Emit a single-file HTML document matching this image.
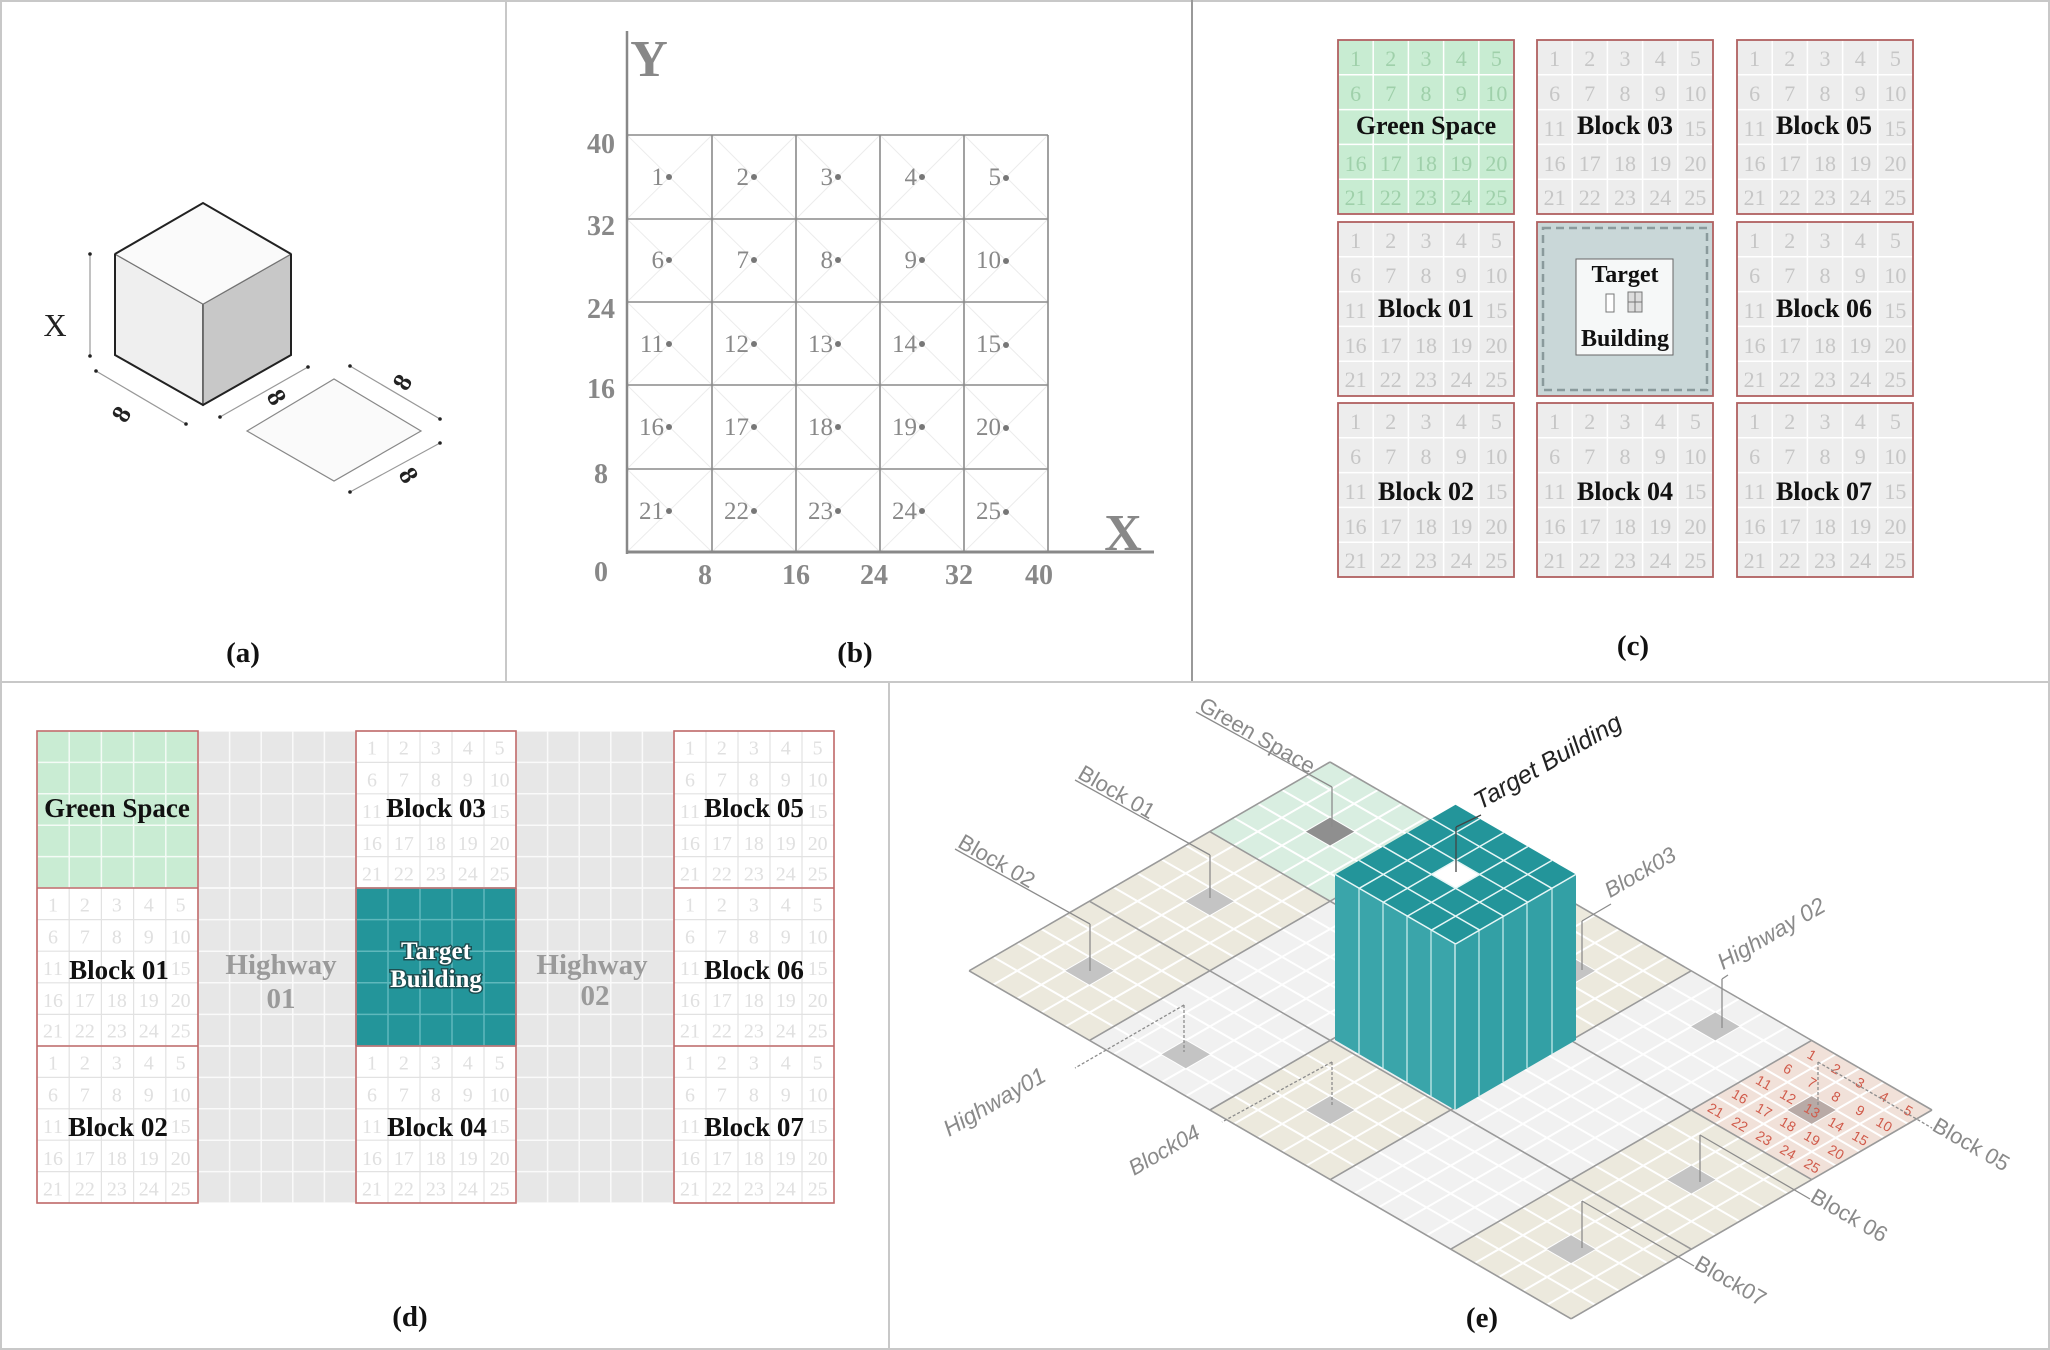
<!DOCTYPE html>
<html><head><meta charset="utf-8"><style>
html,body{margin:0;padding:0;background:#fff}
svg{display:block}
.sr{font-family:"Liberation Serif",serif}
.n{font-family:"Liberation Serif",serif;font-size:22px;fill:#c6c6c6;text-anchor:middle}
.ng{fill:#9fd0aa}
.nd{fill:#e0e0e0}
.lb{font-family:"Liberation Serif",serif;font-weight:bold;font-size:26px;fill:#111;text-anchor:middle}
.cap{font-family:"Liberation Serif",serif;font-weight:bold;font-size:29px;fill:#111;text-anchor:middle}
.bn{font-family:"Liberation Serif",serif;font-size:25px;fill:#888;text-anchor:end}
.tk{font-family:"Liberation Serif",serif;font-weight:bold;font-size:28px;fill:#888;text-anchor:middle}
.el{font-family:"Liberation Sans",sans-serif;font-size:22px;fill:#8a8a8a}
</style></head><body>
<svg width="2050" height="1350" viewBox="0 0 2050 1350" xmlns="http://www.w3.org/2000/svg">
<defs>
<path id="g5" d="M0 0V5M1 0V5M2 0V5M3 0V5M4 0V5M5 0V5M0 0H5M0 1H5M0 2H5M0 3H5M0 4H5M0 5H5" vector-effect="non-scaling-stroke" fill="none"/>
</defs>
<rect x="1" y="1" width="2048" height="1348" fill="#fff" stroke="#c8c8c8" stroke-width="2"/>
<line x1="506" y1="0" x2="506" y2="682" stroke="#c8c8c8" stroke-width="2"/>
<line x1="1192" y1="0" x2="1192" y2="682" stroke="#999" stroke-width="2"/>
<line x1="0" y1="682" x2="2050" y2="682" stroke="#c8c8c8" stroke-width="2"/>
<line x1="889" y1="682" x2="889" y2="1350" stroke="#c8c8c8" stroke-width="2"/>

<!-- Panel a -->
<polygon points="115,254 203,304 203,405 115,355" fill="#efefef" stroke="#555" stroke-width="1.5"/>
<polygon points="203,304 291,254 291,355 203,405" fill="#c8c8c8" stroke="#555" stroke-width="1.5"/>
<polygon points="203,203 291,254 203,304 115,254" fill="#fafafa" stroke="#777" stroke-width="1"/>
<polyline points="115,254 203,203 291,254" fill="none" stroke="#222" stroke-width="2"/>
<polyline points="115,254 115,355 203,405 291,355 291,254" fill="none" stroke="#222" stroke-width="2"/>
<g stroke="#999" stroke-width="1.2">
<line x1="90" y1="254" x2="90" y2="356"/>
<line x1="96" y1="371" x2="186" y2="424"/>
<line x1="220" y1="417" x2="308" y2="367"/>
<line x1="350" y1="366" x2="440" y2="419"/>
<line x1="440" y1="443" x2="350" y2="492"/>
</g>
<g fill="#222"><circle cx="90" cy="254" r="1.8"/><circle cx="90" cy="356" r="1.8"/><circle cx="96" cy="371" r="1.8"/><circle cx="186" cy="424" r="1.8"/><circle cx="220" cy="417" r="1.8"/><circle cx="308" cy="367" r="1.8"/><circle cx="350" cy="366" r="1.8"/><circle cx="440" cy="419" r="1.8"/><circle cx="440" cy="443" r="1.8"/><circle cx="350" cy="492" r="1.8"/></g>
<polygon points="247,431 334,379 421,431 334,481" fill="#fafafa" stroke="#888" stroke-width="1.2"/>
<text x="55" y="336" class="sr" font-size="32" text-anchor="middle" fill="#222">X</text>
<g class="sr" font-size="26" font-weight="bold" fill="#222" text-anchor="middle">
<text transform="translate(121,414) rotate(-60)" y="9">8</text>
<text transform="translate(277,397) rotate(60)" y="9">8</text>
<text transform="translate(402,382) rotate(-60)" y="9">8</text>
<text transform="translate(409,475) rotate(60)" y="9">8</text>
</g>
<text x="243" y="662" class="cap">(a)</text>

<!-- Panel b -->
<g stroke="#ececec" stroke-width="1">
<path d="M627 135L712 219M712 135L627 219M712 135L796 219M796 135L712 219M796 135L880 219M880 135L796 219M880 135L964 219M964 135L880 219M964 135L1048 219M1048 135L964 219
M627 219L712 302M712 219L627 302M712 219L796 302M796 219L712 302M796 219L880 302M880 219L796 302M880 219L964 302M964 219L880 302M964 219L1048 302M1048 219L964 302
M627 302L712 385M712 302L627 385M712 302L796 385M796 302L712 385M796 302L880 385M880 302L796 385M880 302L964 385M964 302L880 385M964 302L1048 385M1048 302L964 385
M627 385L712 469M712 385L627 469M712 385L796 469M796 385L712 469M796 385L880 469M880 385L796 469M880 385L964 469M964 385L880 469M964 385L1048 469M1048 385L964 469
M627 469L712 552M712 469L627 552M712 469L796 552M796 469L712 552M796 469L880 552M880 469L796 552M880 469L964 552M964 469L880 552M964 469L1048 552M1048 469L964 552"/>
</g>
<g stroke="#8a8a8a" stroke-width="1.6" fill="none">
<path d="M627 135H1048M627 219H1048M627 302H1048M627 385H1048M627 469H1048M712 135V552M796 135V552M880 135V552M964 135V552M1048 135V552"/>
</g>
<line x1="627" y1="31" x2="627" y2="554" stroke="#888" stroke-width="2.5"/>
<line x1="626" y1="552" x2="1154" y2="552" stroke="#888" stroke-width="3"/>
<text x="649" y="76" class="sr" font-size="52" font-weight="bold" fill="#888" text-anchor="middle">Y</text>
<text x="1123" y="550" class="sr" font-size="52" font-weight="bold" fill="#888" text-anchor="middle">X</text>
<g class="tk">
<text x="601" y="153">40</text><text x="601" y="235">32</text><text x="601" y="318">24</text><text x="601" y="398">16</text><text x="601" y="483">8</text><text x="601" y="581">0</text>
<text x="705" y="584">8</text><text x="796" y="584">16</text><text x="874" y="584">24</text><text x="959" y="584">32</text><text x="1039" y="584">40</text>
</g>
<g class="bn">
<text x="664" y="185">1</text><text x="749" y="185">2</text><text x="833" y="185">3</text><text x="917" y="185">4</text><text x="1001" y="185">5</text>
<text x="664" y="268">6</text><text x="749" y="268">7</text><text x="833" y="268">8</text><text x="917" y="268">9</text><text x="1001" y="268">10</text>
<text x="664" y="352">11</text><text x="749" y="352">12</text><text x="833" y="352">13</text><text x="917" y="352">14</text><text x="1001" y="352">15</text>
<text x="664" y="435">16</text><text x="749" y="435">17</text><text x="833" y="435">18</text><text x="917" y="435">19</text><text x="1001" y="435">20</text>
<text x="664" y="519">21</text><text x="749" y="519">22</text><text x="833" y="519">23</text><text x="917" y="519">24</text><text x="1001" y="519">25</text>
</g>
<g fill="#777">
<circle cx="669" cy="177" r="3"/><circle cx="754" cy="177" r="3"/><circle cx="838" cy="177" r="3"/><circle cx="922" cy="177" r="3"/><circle cx="1006" cy="178" r="3"/>
<circle cx="669" cy="260" r="3"/><circle cx="754" cy="260" r="3"/><circle cx="838" cy="260" r="3"/><circle cx="922" cy="260" r="3"/><circle cx="1006" cy="261" r="3"/>
<circle cx="669" cy="344" r="3"/><circle cx="754" cy="344" r="3"/><circle cx="838" cy="344" r="3"/><circle cx="922" cy="344" r="3"/><circle cx="1006" cy="345" r="3"/>
<circle cx="669" cy="427" r="3"/><circle cx="754" cy="427" r="3"/><circle cx="838" cy="427" r="3"/><circle cx="922" cy="427" r="3"/><circle cx="1006" cy="428" r="3"/>
<circle cx="669" cy="511" r="3"/><circle cx="754" cy="511" r="3"/><circle cx="838" cy="511" r="3"/><circle cx="922" cy="511" r="3"/><circle cx="1006" cy="512" r="3"/>
</g>
<text x="855" y="662" class="cap">(b)</text>

<!-- Panel c -->
<g>
<rect x="1338" y="40" width="176" height="174" fill="#c8ecd2"/>
<rect x="1537" y="40" width="176" height="174" fill="#ededed"/>
<rect x="1737" y="40" width="176" height="174" fill="#ededed"/>
<rect x="1338" y="222" width="176" height="174" fill="#ededed"/>
<rect x="1537" y="222" width="176" height="174" fill="#c9d7d8"/>
<rect x="1737" y="222" width="176" height="174" fill="#ededed"/>
<rect x="1338" y="403" width="176" height="174" fill="#ededed"/>
<rect x="1537" y="403" width="176" height="174" fill="#ededed"/>
<rect x="1737" y="403" width="176" height="174" fill="#ededed"/>
<g stroke="#fff" stroke-width="1.5">
<use href="#g5" transform="translate(1338,40) scale(35.2,34.8)"/>
<use href="#g5" transform="translate(1537,40) scale(35.2,34.8)"/>
<use href="#g5" transform="translate(1737,40) scale(35.2,34.8)"/>
<use href="#g5" transform="translate(1338,222) scale(35.2,34.8)"/>
<use href="#g5" transform="translate(1737,222) scale(35.2,34.8)"/>
<use href="#g5" transform="translate(1338,403) scale(35.2,34.8)"/>
<use href="#g5" transform="translate(1537,403) scale(35.2,34.8)"/>
<use href="#g5" transform="translate(1737,403) scale(35.2,34.8)"/>
</g>
<g class="n ng" transform="translate(1338,40)">
<text x="17.6 52.8 88 123.2 158.4" y="26">12345</text>
<text x="17.6 52.8 88 123.2 152.9 163.9" y="61">678910</text>
<text x="12.1 23.1 47.3 58.3 82.5 93.5 117.7 128.7 152.9 163.9" y="131">1617181920</text>
<text x="12.1 23.1 47.3 58.3 82.5 93.5 117.7 128.7 152.9 163.9" y="165">2122232425</text>
</g>
<g class="n" transform="translate(1537,40)">
<text x="17.6 52.8 88 123.2 158.4" y="26">12345</text>
<text x="17.6 52.8 88 123.2 152.9 163.9" y="61">678910</text>
<text x="12.1 23.1 152.9 163.9" y="96">1115</text>
<text x="12.1 23.1 47.3 58.3 82.5 93.5 117.7 128.7 152.9 163.9" y="131">1617181920</text>
<text x="12.1 23.1 47.3 58.3 82.5 93.5 117.7 128.7 152.9 163.9" y="165">2122232425</text>
</g>
<g class="n" transform="translate(1737,40)">
<text x="17.6 52.8 88 123.2 158.4" y="26">12345</text>
<text x="17.6 52.8 88 123.2 152.9 163.9" y="61">678910</text>
<text x="12.1 23.1 152.9 163.9" y="96">1115</text>
<text x="12.1 23.1 47.3 58.3 82.5 93.5 117.7 128.7 152.9 163.9" y="131">1617181920</text>
<text x="12.1 23.1 47.3 58.3 82.5 93.5 117.7 128.7 152.9 163.9" y="165">2122232425</text>
</g>
<g class="n" transform="translate(1338,222)">
<text x="17.6 52.8 88 123.2 158.4" y="26">12345</text>
<text x="17.6 52.8 88 123.2 152.9 163.9" y="61">678910</text>
<text x="12.1 23.1 152.9 163.9" y="96">1115</text>
<text x="12.1 23.1 47.3 58.3 82.5 93.5 117.7 128.7 152.9 163.9" y="131">1617181920</text>
<text x="12.1 23.1 47.3 58.3 82.5 93.5 117.7 128.7 152.9 163.9" y="165">2122232425</text>
</g>
<g class="n" transform="translate(1737,222)">
<text x="17.6 52.8 88 123.2 158.4" y="26">12345</text>
<text x="17.6 52.8 88 123.2 152.9 163.9" y="61">678910</text>
<text x="12.1 23.1 152.9 163.9" y="96">1115</text>
<text x="12.1 23.1 47.3 58.3 82.5 93.5 117.7 128.7 152.9 163.9" y="131">1617181920</text>
<text x="12.1 23.1 47.3 58.3 82.5 93.5 117.7 128.7 152.9 163.9" y="165">2122232425</text>
</g>
<g class="n" transform="translate(1338,403)">
<text x="17.6 52.8 88 123.2 158.4" y="26">12345</text>
<text x="17.6 52.8 88 123.2 152.9 163.9" y="61">678910</text>
<text x="12.1 23.1 152.9 163.9" y="96">1115</text>
<text x="12.1 23.1 47.3 58.3 82.5 93.5 117.7 128.7 152.9 163.9" y="131">1617181920</text>
<text x="12.1 23.1 47.3 58.3 82.5 93.5 117.7 128.7 152.9 163.9" y="165">2122232425</text>
</g>
<g class="n" transform="translate(1537,403)">
<text x="17.6 52.8 88 123.2 158.4" y="26">12345</text>
<text x="17.6 52.8 88 123.2 152.9 163.9" y="61">678910</text>
<text x="12.1 23.1 152.9 163.9" y="96">1115</text>
<text x="12.1 23.1 47.3 58.3 82.5 93.5 117.7 128.7 152.9 163.9" y="131">1617181920</text>
<text x="12.1 23.1 47.3 58.3 82.5 93.5 117.7 128.7 152.9 163.9" y="165">2122232425</text>
</g>
<g class="n" transform="translate(1737,403)">
<text x="17.6 52.8 88 123.2 158.4" y="26">12345</text>
<text x="17.6 52.8 88 123.2 152.9 163.9" y="61">678910</text>
<text x="12.1 23.1 152.9 163.9" y="96">1115</text>
<text x="12.1 23.1 47.3 58.3 82.5 93.5 117.7 128.7 152.9 163.9" y="131">1617181920</text>
<text x="12.1 23.1 47.3 58.3 82.5 93.5 117.7 128.7 152.9 163.9" y="165">2122232425</text>
</g>
<rect x="1543" y="228" width="164" height="162" fill="none" stroke="#8a9a9c" stroke-width="2.5" stroke-dasharray="8 5"/>
<rect x="1576" y="259" width="97" height="96" fill="#f6f8f8" stroke="#666" stroke-width="1"/>
<rect x="1606" y="294" width="8" height="18" fill="#fff" stroke="#777" stroke-width="1"/>
<rect x="1628" y="292" width="14" height="20" fill="#ddd" stroke="#777" stroke-width="1"/>
<line x1="1628" y1="302" x2="1642" y2="302" stroke="#777"/>
<line x1="1635" y1="292" x2="1635" y2="312" stroke="#777"/>
<g fill="none" stroke="#b06060" stroke-width="1.8">
<rect x="1338" y="40" width="176" height="174"/><rect x="1537" y="40" width="176" height="174"/><rect x="1737" y="40" width="176" height="174"/>
<rect x="1338" y="222" width="176" height="174"/><rect x="1537" y="222" width="176" height="174"/><rect x="1737" y="222" width="176" height="174"/>
<rect x="1338" y="403" width="176" height="174"/><rect x="1537" y="403" width="176" height="174"/><rect x="1737" y="403" width="176" height="174"/>
</g>
<g class="lb">
<text x="1426" y="134">Green Space</text><text x="1625" y="134">Block 03</text><text x="1824" y="134">Block 05</text>
<text x="1426" y="317">Block 01</text><text x="1824" y="317">Block 06</text>
<text x="1426" y="500">Block 02</text><text x="1625" y="500">Block 04</text><text x="1824" y="500">Block 07</text>
<text x="1625" y="282" style="font-size:24px">Target</text><text x="1625" y="346" style="font-size:24px">Building</text>
</g>
<text x="1633" y="655" class="cap">(c)</text>
</g>

<!-- Panel d -->
<g>
<rect x="37" y="731" width="161" height="157" fill="#c9ecd3"/>
<rect x="198" y="731" width="158" height="472" fill="#e7e7e7"/>
<rect x="516" y="731" width="158" height="472" fill="#e7e7e7"/>
<rect x="356" y="888" width="160" height="158" fill="#23959a"/>
<g stroke="#fff" stroke-width="1.5" opacity="0.8">
<use href="#g5" transform="translate(37,731) scale(32.2,31.4)"/>
<use href="#g5" transform="translate(198,731) scale(31.6,31.4)"/>
<use href="#g5" transform="translate(198,888) scale(31.6,31.6)"/>
<use href="#g5" transform="translate(198,1046) scale(31.6,31.4)"/>
<use href="#g5" transform="translate(516,731) scale(31.6,31.4)"/>
<use href="#g5" transform="translate(516,888) scale(31.6,31.6)"/>
<use href="#g5" transform="translate(516,1046) scale(31.6,31.4)"/>
</g>
<g stroke="#5fb8bc" stroke-width="1.5">
<use href="#g5" transform="translate(356,888) scale(32,31.6)"/>
</g>
<g stroke="#e2e2e2" stroke-width="1.2">
<use href="#g5" transform="translate(37,888) scale(32.2,31.6)"/>
<use href="#g5" transform="translate(37,1046) scale(32.2,31.4)"/>
<use href="#g5" transform="translate(356,731) scale(32,31.4)"/>
<use href="#g5" transform="translate(356,1046) scale(32,31.4)"/>
<use href="#g5" transform="translate(674,731) scale(32,31.4)"/>
<use href="#g5" transform="translate(674,888) scale(32,31.6)"/>
<use href="#g5" transform="translate(674,1046) scale(32,31.4)"/>
</g>
<g class="n nd" transform="translate(37,888) scale(0.907)">
<text x="17.6 52.8 88 123.2 158.4" y="26">12345</text>
<text x="17.6 52.8 88 123.2 152.9 163.9" y="61">678910</text>
<text x="12.1 23.1 152.9 163.9" y="96">1115</text>
<text x="12.1 23.1 47.3 58.3 82.5 93.5 117.7 128.7 152.9 163.9" y="131">1617181920</text>
<text x="12.1 23.1 47.3 58.3 82.5 93.5 117.7 128.7 152.9 163.9" y="165">2122232425</text>
</g>
<g class="n nd" transform="translate(37,1046) scale(0.907)">
<text x="17.6 52.8 88 123.2 158.4" y="26">12345</text>
<text x="17.6 52.8 88 123.2 152.9 163.9" y="61">678910</text>
<text x="12.1 23.1 152.9 163.9" y="96">1115</text>
<text x="12.1 23.1 47.3 58.3 82.5 93.5 117.7 128.7 152.9 163.9" y="131">1617181920</text>
<text x="12.1 23.1 47.3 58.3 82.5 93.5 117.7 128.7 152.9 163.9" y="165">2122232425</text>
</g>
<g class="n nd" transform="translate(356,731) scale(0.907)">
<text x="17.6 52.8 88 123.2 158.4" y="26">12345</text>
<text x="17.6 52.8 88 123.2 152.9 163.9" y="61">678910</text>
<text x="12.1 23.1 152.9 163.9" y="96">1115</text>
<text x="12.1 23.1 47.3 58.3 82.5 93.5 117.7 128.7 152.9 163.9" y="131">1617181920</text>
<text x="12.1 23.1 47.3 58.3 82.5 93.5 117.7 128.7 152.9 163.9" y="165">2122232425</text>
</g>
<g class="n nd" transform="translate(356,1046) scale(0.907)">
<text x="17.6 52.8 88 123.2 158.4" y="26">12345</text>
<text x="17.6 52.8 88 123.2 152.9 163.9" y="61">678910</text>
<text x="12.1 23.1 152.9 163.9" y="96">1115</text>
<text x="12.1 23.1 47.3 58.3 82.5 93.5 117.7 128.7 152.9 163.9" y="131">1617181920</text>
<text x="12.1 23.1 47.3 58.3 82.5 93.5 117.7 128.7 152.9 163.9" y="165">2122232425</text>
</g>
<g class="n nd" transform="translate(674,731) scale(0.907)">
<text x="17.6 52.8 88 123.2 158.4" y="26">12345</text>
<text x="17.6 52.8 88 123.2 152.9 163.9" y="61">678910</text>
<text x="12.1 23.1 152.9 163.9" y="96">1115</text>
<text x="12.1 23.1 47.3 58.3 82.5 93.5 117.7 128.7 152.9 163.9" y="131">1617181920</text>
<text x="12.1 23.1 47.3 58.3 82.5 93.5 117.7 128.7 152.9 163.9" y="165">2122232425</text>
</g>
<g class="n nd" transform="translate(674,888) scale(0.907)">
<text x="17.6 52.8 88 123.2 158.4" y="26">12345</text>
<text x="17.6 52.8 88 123.2 152.9 163.9" y="61">678910</text>
<text x="12.1 23.1 152.9 163.9" y="96">1115</text>
<text x="12.1 23.1 47.3 58.3 82.5 93.5 117.7 128.7 152.9 163.9" y="131">1617181920</text>
<text x="12.1 23.1 47.3 58.3 82.5 93.5 117.7 128.7 152.9 163.9" y="165">2122232425</text>
</g>
<g class="n nd" transform="translate(674,1046) scale(0.907)">
<text x="17.6 52.8 88 123.2 158.4" y="26">12345</text>
<text x="17.6 52.8 88 123.2 152.9 163.9" y="61">678910</text>
<text x="12.1 23.1 152.9 163.9" y="96">1115</text>
<text x="12.1 23.1 47.3 58.3 82.5 93.5 117.7 128.7 152.9 163.9" y="131">1617181920</text>
<text x="12.1 23.1 47.3 58.3 82.5 93.5 117.7 128.7 152.9 163.9" y="165">2122232425</text>
</g>
<g fill="none" stroke="#c06a6a" stroke-width="1.6">
<rect x="37" y="731" width="161" height="472"/><rect x="356" y="731" width="160" height="472"/><rect x="674" y="731" width="160" height="472"/>
<path d="M37 888H198M37 1046H198M356 888H516M356 1046H516M674 888H834M674 1046H834"/>
</g>
<g class="lb" style="font-size:27px">
<text x="117" y="817">Green Space</text><text x="436" y="817">Block 03</text><text x="754" y="817">Block 05</text>
<text x="119" y="979">Block 01</text><text x="754" y="979">Block 06</text>
<text x="118" y="1136">Block 02</text><text x="437" y="1136">Block 04</text><text x="754" y="1136">Block 07</text>
</g>
<g class="lb" style="font-size:25px;fill:#fff;stroke:#1d4f52;stroke-width:3px;paint-order:stroke">
<text x="436" y="959">Target</text><text x="436" y="987">Building</text>
</g>
<g class="lb" style="font-size:29px;fill:#9a9a9a">
<text x="281" y="974">Highway</text><text x="281" y="1008">01</text>
<text x="592" y="974">Highway</text><text x="595" y="1005">02</text>
</g>
<text x="410" y="1326" class="cap">(d)</text>
</g>

<!-- Panel e -->
<g transform="matrix(120.4 69.6 -120.3 69.6 1330 762)">
<rect x="0" y="0" width="1" height="1" fill="#d9eee1"/>
<rect x="0" y="1" width="1" height="2" fill="#ece9dd"/>
<rect x="1" y="0" width="1" height="3" fill="#f1f1f1"/>
<rect x="2" y="0" width="1" height="1" fill="#ece9dd"/>
<rect x="2" y="1" width="1" height="1" fill="#f1f1f1"/>
<rect x="2" y="2" width="1" height="1" fill="#ece9dd"/>
<rect x="3" y="0" width="1" height="3" fill="#f1f1f1"/>
<rect x="4" y="0" width="1" height="1" fill="#f1e1d9"/>
<rect x="4" y="1" width="1" height="2" fill="#ece9dd"/>
<path vector-effect="non-scaling-stroke" stroke="#fff" stroke-width="2" fill="none" d="M0.2 0V3M0.4 0V3M0.6 0V3M0.8 0V3M1.2 0V3M1.4 0V3M1.6 0V3M1.8 0V3M2.2 0V3M2.4 0V3M2.6 0V3M2.8 0V3M3.2 0V3M3.4 0V3M3.6 0V3M3.8 0V3M4.2 0V3M4.4 0V3M4.6 0V3M4.8 0V3M0 0.2H5M0 0.4H5M0 0.6H5M0 0.8H5M0 1.2H5M0 1.4H5M0 1.6H5M0 1.8H5M0 2.2H5M0 2.4H5M0 2.6H5M0 2.8H5"/>
<g fill="#c4c4c4">
<rect x="0.4" y="0.4" width="0.2" height="0.2" fill="#8f8f8f"/>
<rect x="0.4" y="1.4" width="0.2" height="0.2"/>
<rect x="0.4" y="2.4" width="0.2" height="0.2"/>
<rect x="1.4" y="2.6" width="0.2" height="0.2"/>
<rect x="2.4" y="0.4" width="0.2" height="0.2"/>
<rect x="2.4" y="2.4" width="0.2" height="0.2"/>
<rect x="3.4" y="0.2" width="0.2" height="0.2"/>
<rect x="4.4" y="0.4" width="0.2" height="0.2" fill="#b8aaa6"/>
<rect x="4.4" y="1.4" width="0.2" height="0.2"/>
<rect x="4.4" y="2.4" width="0.2" height="0.2"/>
</g>
<path vector-effect="non-scaling-stroke" stroke="#9a9a9a" stroke-width="1.6" fill="none" d="M0 0V3M1 0V3M2 0V3M3 0V3M4 0V3M5 0V3M0 0H5M0 1H5M0 2H5M0 3H5"/>
</g>
<!-- Block05 numbers -->
<g transform="translate(1812,1041) rotate(30)" font-family="Liberation Sans, sans-serif" font-size="14" fill="#d05a4a" text-anchor="middle">
<text x="6.95 34.75 62.55 90.35 118.15" y="17">12345</text>
<text x="-6.95 20.85 48.65 76.45 100.25 108.25" y="41">678910</text>
<text x="-24.85 -16.85 2.95 10.95 30.75 38.75 58.55 66.55 86.35 94.35" y="65">1112131415</text>
<text x="-38.75 -30.75 -10.95 -2.95 16.85 24.85 44.65 52.65 72.45 80.45" y="89">1617181920</text>
<text x="-52.65 -44.65 -24.85 -16.85 2.95 10.95 30.75 38.75 58.55 66.55" y="113">2122232425</text>
</g>
<!-- building -->
<polygon points="1335,874 1455,944 1455,1110 1335,1040" fill="#3aa5aa"/>
<polygon points="1455,944 1576,874 1576,1040 1455,1110" fill="#33a0a5"/>
<g stroke="#cfeeee" stroke-width="1.2">
<line x1="1359" y1="888" x2="1359" y2="1054"/><line x1="1383" y1="902" x2="1383" y2="1068"/><line x1="1407" y1="916" x2="1407" y2="1082"/><line x1="1431" y1="930" x2="1431" y2="1096"/>
<line x1="1479" y1="930" x2="1479" y2="1096"/><line x1="1503" y1="916" x2="1503" y2="1082"/><line x1="1527" y1="902" x2="1527" y2="1068"/><line x1="1552" y1="888" x2="1552" y2="1054"/>
<line x1="1455" y1="944" x2="1455" y2="1110" stroke="#e8f8f8"/>
</g>
<g transform="matrix(120.4 69.6 -120.3 69.6 1335 596)">
<rect x="2" y="1" width="1" height="1" fill="#23959a"/>
<rect x="2.4" y="1.4" width="0.2" height="0.2" fill="#fff"/>
<path vector-effect="non-scaling-stroke" stroke="#e6f6f6" stroke-width="1.5" fill="none" d="M2.2 1V2M2.4 1V2M2.6 1V2M2.8 1V2M2 1.2H3M2 1.4H3M2 1.6H3M2 1.8H3M3 1V2M2 2H3"/>
</g>
<!-- callouts -->
<g stroke="#8c8c8c" stroke-width="1.3" fill="none">
<path d="M1332 787V827M1196 712L1332 787"/>
<path d="M1210 855V898M1075 780L1210 855"/>
<path d="M1090 924V971M955 849L1090 924"/>
<path d="M1456 827V872M1456 827L1481 815" stroke="#444"/>
<path d="M1582 921V970M1582 921L1611 904"/>
<path d="M1722 979V1028M1722 979L1728 975"/>
<path d="M1184 1005V1052M1184 1005L1075 1068" stroke-dasharray="3 2"/>
<path d="M1332 1062V1107M1332 1062L1222 1122" stroke-dasharray="3 2"/>
<path d="M1818 1062V1107M1818 1062L1932 1128" stroke-dasharray="3 2"/>
<path d="M1700 1135V1182M1700 1135L1810 1199"/>
<path d="M1582 1201V1248M1582 1201L1694 1266"/>
</g>
<g class="el">
<text transform="translate(1196,712) rotate(30)" y="-3">Green Space</text>
<text transform="translate(1075,780) rotate(30)" y="-3">Block 01</text>
<text transform="translate(955,849) rotate(30)" y="-3">Block 02</text>
<text transform="translate(1481,812) rotate(-30)" y="-2" style="font-size:25px;font-style:italic;fill:#222">Target Building</text>
<text transform="translate(1611,900) rotate(-30)" y="-2" style="font-style:italic">Block03</text>
<text transform="translate(1724,972) rotate(-30)" y="-2" style="font-style:italic;font-size:23px">Highway 02</text>
<text transform="translate(949,1137) rotate(-30)" y="0" style="font-style:italic;font-size:23px">Highway01</text>
<text transform="translate(1134,1176) rotate(-30)" y="0" style="font-style:italic">Block04</text>
<text transform="translate(1932,1128) rotate(30)" y="2">Block 05</text>
<text transform="translate(1810,1199) rotate(30)" y="2">Block 06</text>
<text transform="translate(1694,1266) rotate(30)" y="2">Block07</text>
</g>
<text x="1482" y="1327" class="cap">(e)</text>
</svg>
</body></html>
